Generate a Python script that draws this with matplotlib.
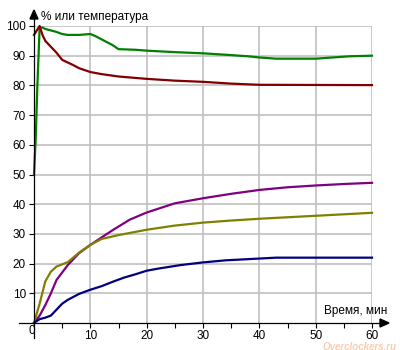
import matplotlib
matplotlib.use("Agg")
import matplotlib.pyplot as plt
from matplotlib.patches import Polygon
from matplotlib.lines import Line2D

plt.rcParams['font.family'] = ['Liberation Sans', 'DejaVu Sans']

# --- data ---------------------------------------------------------------
green_t = [0, 0.3, 0.6, 1.0, 1.5, 2, 3, 4, 5, 6, 8, 10, 11, 12, 13, 14, 15,
           18, 20, 25, 30, 35, 38, 40, 43, 45, 50, 53, 56, 60]
green_v = [50, 62, 80, 99.5, 99.5, 99, 98.5, 98, 97.3, 97, 97, 97.3, 96.5,
           95.5, 94.5, 93.5, 92.2, 92, 91.7, 91.2, 90.8, 90.2, 89.8, 89.4,
           89, 89, 89, 89.4, 89.8, 90]

red_t = [0, 0.5, 1.0, 1.5, 2, 3, 4, 5, 7, 8, 10, 12, 15, 20, 25, 30, 35, 40, 60]
red_v = [97, 98.5, 100, 97, 95, 93, 91, 88.6, 86.8, 85.8, 84.5, 83.8, 83,
         82.2, 81.6, 81.2, 80.6, 80.2, 80.1]

purple_t = [0, 1, 2, 3, 4, 6, 8, 10, 12, 14, 17, 20, 25, 30, 35, 40, 45, 50, 55, 60]
purple_v = [0, 2.5, 6, 10, 14.5, 19.5, 23.5, 26.3, 28.8, 31.3, 34.8, 37.2,
            40.3, 42, 43.5, 44.8, 45.7, 46.3, 46.8, 47.2]

olive_t = [0, 1, 2, 3, 4, 6, 8, 10, 12, 15, 20, 25, 30, 35, 40, 45, 50, 55, 60]
olive_v = [0, 6.5, 14, 17.3, 19, 20.5, 23.7, 26.3, 28.3, 29.6, 31.4, 32.8,
           33.8, 34.5, 35.1, 35.6, 36.1, 36.6, 37.1]

blue_t = [0, 1, 2, 3, 4, 5, 6, 8, 10, 12, 14, 16, 18, 20, 22, 26, 30, 34,
          38, 43, 50, 60]
blue_v = [0, 1.3, 1.8, 2.5, 4.5, 6.5, 7.8, 9.8, 11.2, 12.4, 13.9, 15.3,
          16.4, 17.6, 18.3, 19.5, 20.4, 21.1, 21.5, 22, 22, 22]

x_ticks = [10, 20, 30, 40, 50, 60]
y_ticks = [10, 20, 30, 40, 50, 60, 70, 80, 90, 100]

W, H = 400, 350


def fx(px):
    return px / W


def fy(py):
    return 1 - py / H


fig = plt.figure(figsize=(W / 100, H / 100), dpi=100)
ax = fig.add_axes([fx(34), fy(323), 338 / W, 297 / H])
ax.set_xlim(0, 60)
ax.set_ylim(0, 100)
for s in ax.spines.values():
    s.set_visible(False)

ax.set_xticks(x_ticks)
ax.set_xticks(range(5, 60, 10), minor=True)
ax.set_yticks(y_ticks)
ax.grid(True, color='#c0c0c0', linewidth=1.2)
ax.tick_params(axis='both', which='both', direction='out', length=3.8,
               width=0.8, color='black', labelsize=8.5)
ax.tick_params(axis='x', pad=1)
ax.tick_params(axis='y', pad=2)

lw = 1.6
ax.plot(green_t, green_v, color='#008000', lw=lw, clip_on=False)
ax.plot(red_t, red_v, color='#800000', lw=lw, clip_on=False)
ax.plot(purple_t, purple_v, color='#800080', lw=lw, clip_on=False)
ax.plot(olive_t, olive_v, color='#808000', lw=lw, clip_on=False)
ax.plot(blue_t, blue_v, color='#000080', lw=lw, clip_on=False)

# axis lines with arrowheads
fig.add_artist(Line2D([fx(34), fx(34)], [fy(338), fy(18)], color='black', lw=0.9))
fig.add_artist(Line2D([fx(19), fx(381)], [fy(323), fy(323)], color='black', lw=0.9))
fig.add_artist(Polygon([(fx(30), fy(19)), (fx(38), fy(19)), (fx(34), fy(10))],
                       closed=True, color='black', transform=fig.transFigure))
fig.add_artist(Polygon([(fx(380), fy(319)), (fx(380), fy(327)), (fx(389), fy(323))],
                       closed=True, color='black', transform=fig.transFigure))

fig.text(fx(41), fy(17), '% или температура', fontsize=8.5, va='center', ha='left')
fig.text(fx(387), fy(311), 'Время, мин', fontsize=8.5, va='center', ha='right')
fig.text(fx(32), fy(331), '0', fontsize=8.5, va='center', ha='center')

# faint site mark in the lower right corner
fig.text(fx(397), fy(346.5), 'Overclockers.ru', fontsize=7, va='center', ha='right',
         style='italic', weight='bold', color='#f7cdb4')

fig.savefig('out.png', dpi=100)
